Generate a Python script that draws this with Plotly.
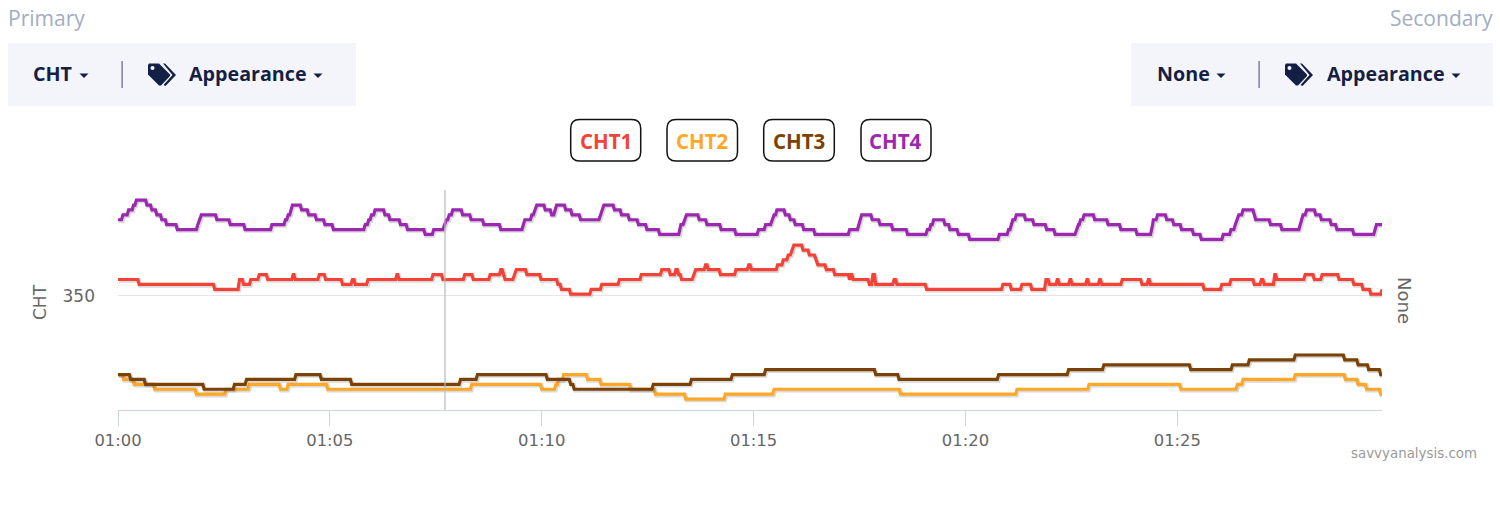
import pandas as pd
import plotly.graph_objects as go

# Series data: the seconds after 01:00:00 at which a reading changes, and the new reading
series_names = ["CHT1", "CHT2", "CHT3", "CHT4"]
series_colors = ["#f44336", "#ffa726", "#7b4206", "#9c27b0"]

cht1_t = [0,30,137,172,178,188,200,212,248,251,285,294,318,332,336,354,395,398,446,460,491,503,527,542,546,548,561,564,579,599,623,628,641,670,685,710,741,770,782,790,794,798,815,818,832,836,853,875,893,897,934,942,949,954,957,970,979,988,991,1003,1015,1036,1038,1041,1064,1069,1073,1099,1103,1145,1253,1265,1280,1294,1314,1319,1330,1333,1348,1351,1372,1375,1390,1393,1422,1450,1459,1462,1538,1563,1576,1609,1619,1623,1638,1641,1681,1694,1705,1729,1750,1763,1774,1790]
cht1_v = [353.3,352.3,351.3,353.3,352.3,353.3,354.3,353.3,354.3,353.3,354.3,353.3,352.3,353.3,352.3,353.3,354.3,353.3,354.3,353.3,354.3,353.3,354.3,355.3,354.3,353.3,354.3,355.3,354.3,353.3,352.3,351.3,350.3,351.3,352.3,353.3,354.3,355.3,354.3,355.3,354.3,353.3,354.3,355.3,356.3,355.3,354.3,355.3,356.3,355.3,356.3,357.3,358.3,359.3,360.3,359.3,358.3,357.3,356.3,355.3,354.3,353.3,354.3,353.3,352.3,354.3,352.3,353.3,352.3,351.3,352.3,351.3,352.3,351.3,353.3,352.3,353.3,352.3,353.3,352.3,353.3,352.3,353.3,352.3,353.3,352.3,353.3,352.3,351.3,352.3,353.3,352.3,353.3,352.3,354.3,353.3,354.3,353.3,354.3,353.3,352.3,351.3,350.3,351.3]

cht2_t = [0,8,23,52,111,153,186,230,241,297,501,600,620,624,631,665,684,726,761,804,860,929,1108,1273,1375,1505,1585,1593,1667,1738,1756,1768,1788,1790]
cht2_v = [333.9,332.9,331.9,330.9,329.9,330.9,331.9,330.9,331.9,330.9,331.9,330.9,331.9,332.9,333.9,332.9,331.9,330.9,329.9,328.9,329.9,330.9,329.9,330.9,331.9,330.9,331.9,332.9,333.9,332.9,331.9,330.9,329.9,329.9]

cht3_t = [0,18,39,122,165,182,252,288,331,485,509,608,641,646,758,812,870,917,1073,1106,1247,1346,1396,1519,1578,1602,1667,1737,1756,1771,1788,1790]
cht3_v = [333.9,332.9,331.9,330.9,331.9,332.9,333.9,332.9,331.9,332.9,333.9,332.9,331.9,330.9,331.9,332.9,333.9,334.9,333.9,332.9,333.9,334.9,335.9,334.9,335.9,336.9,337.9,336.9,335.9,334.9,333.9,333.9]

cht4_t = [0,7,15,22,26,41,48,55,62,69,84,113,115,118,140,159,180,218,237,241,245,247,260,270,281,293,305,350,355,359,364,378,385,400,410,435,447,462,465,469,474,488,500,518,542,574,576,586,590,593,605,614,619,621,634,643,655,683,685,688,703,713,724,737,749,767,796,797,802,805,823,834,854,875,907,917,926,929,933,945,952,959,971,987,1036,1049,1051,1053,1068,1079,1097,1118,1146,1151,1155,1171,1178,1190,1206,1248,1261,1265,1267,1272,1285,1297,1315,1327,1357,1360,1363,1368,1383,1402,1420,1443,1464,1465,1466,1472,1485,1495,1506,1523,1534,1565,1576,1582,1584,1587,1593,1609,1611,1632,1648,1674,1675,1678,1683,1696,1704,1718,1726,1750,1780,1782,1790]
cht4_v = [365.5,366.5,367.5,368.5,369.5,368.5,367.5,366.5,365.5,364.5,363.5,364.5,365.5,366.5,365.5,364.5,363.5,364.5,365.5,366.5,367.5,368.5,367.5,366.5,365.5,364.5,363.5,364.5,365.5,366.5,367.5,366.5,365.5,364.5,363.5,362.5,363.5,364.5,365.5,366.5,367.5,366.5,365.5,364.5,363.5,364.5,365.5,366.5,367.5,368.5,367.5,366.5,367.5,368.5,367.5,366.5,365.5,366.5,367.5,368.5,367.5,366.5,365.5,364.5,363.5,362.5,363.5,364.5,365.5,366.5,365.5,364.5,363.5,362.5,363.5,364.5,365.5,366.5,367.5,366.5,365.5,364.5,363.5,362.5,363.5,364.5,365.5,366.5,365.5,364.5,363.5,362.5,363.5,364.5,365.5,364.5,363.5,362.5,361.5,362.5,363.5,364.5,365.5,366.5,365.5,364.5,363.5,362.5,363.5,364.5,365.5,366.5,365.5,364.5,363.5,362.5,363.5,364.5,365.5,366.5,365.5,364.5,363.5,362.5,361.5,362.5,363.5,364.5,365.5,366.5,367.5,366.5,365.5,364.5,363.5,364.5,365.5,366.5,367.5,366.5,365.5,364.5,363.5,362.5,363.5,364.5,364.5]

# Axis labels
x_tick_seconds = [0, 300, 600, 900, 1200, 1500]
x_tick_labels = ["01:00", "01:05", "01:10", "01:15", "01:20", "01:25"]
y_ticks = [350]
x_range_seconds = [0, 1789.8]
y_range = [326.67, 371.57]
cursor_second = 463

BASE = pd.Timestamp("2020-01-01 01:00:00")
def when(seconds):
    return [BASE + pd.Timedelta(seconds=float(s)) for s in seconds]

def held(t, v, sample=2.0):
    """Each reading holds until the sample before the next change."""
    xs, ys = [], []
    for i in range(len(t)):
        xs.append(t[i]); ys.append(v[i])
        if i + 1 < len(t) and t[i + 1] - sample > t[i]:
            xs.append(t[i + 1] - sample); ys.append(v[i])
    return xs, ys

# page pixel -> paper
L, R, T, B = 118, 1382, 190, 410
def X(x): return (x - L) / (R - L)
def Y(y): return (B - y) / (B - T)
def P(pts):
    return "M " + " L ".join(f"{X(a):.5f},{Y(b):.5f}" for a, b in pts) + " Z"

fig = go.Figure()
series = [(cht1_t, cht1_v), (cht2_t, cht2_v), (cht3_t, cht3_v), (cht4_t, cht4_v)]
for (t, v), name, color in zip(series, series_names, series_colors):
    xs, ys = held(t, v)
    fig.add_trace(go.Scatter(x=when([a + 1.4 for a in xs]), y=[b - 0.2 for b in ys], mode="lines",
                             line=dict(color="rgba(0,0,0,0.15)", width=4.5), hoverinfo="skip", showlegend=False))
    fig.add_trace(go.Scatter(x=when(xs), y=ys, mode="lines", name=name,
                             line=dict(color=color, width=3.2), showlegend=False))

shapes, annos = [], []
def rect(x0, y0, x1, y1, fill):
    shapes.append(dict(type="rect", xref="paper", yref="paper", x0=X(x0), x1=X(x1), y0=Y(y1), y1=Y(y0),
                       fillcolor=fill, line=dict(width=0), layer="below"))
def text(x, y, s, size, color, family="Open Sans", anchor="left", bold=False, angle=0):
    annos.append(dict(xref="paper", yref="paper", x=X(x), y=Y(y), text=f"<b>{s}</b>" if bold else s,
                      showarrow=False, xanchor=anchor, yanchor="middle", textangle=angle,
                      font=dict(size=size, color=color, family=family), borderpad=0, borderwidth=0))
def rounded(x0, y0, x1, y1, r):
    return (f"M {X(x0+r):.5f},{Y(y0):.5f} L {X(x1-r):.5f},{Y(y0):.5f} Q {X(x1):.5f},{Y(y0):.5f} {X(x1):.5f},{Y(y0+r):.5f} "
            f"L {X(x1):.5f},{Y(y1-r):.5f} Q {X(x1):.5f},{Y(y1):.5f} {X(x1-r):.5f},{Y(y1):.5f} "
            f"L {X(x0+r):.5f},{Y(y1):.5f} Q {X(x0):.5f},{Y(y1):.5f} {X(x0):.5f},{Y(y1-r):.5f} "
            f"L {X(x0):.5f},{Y(y0+r):.5f} Q {X(x0):.5f},{Y(y0):.5f} {X(x0+r):.5f},{Y(y0):.5f} Z")

NAVY, BAND, MUTED = "#141f45", "#f4f5fa", "#a3adc5"
def caret(cx):
    shapes.append(dict(type="path", xref="paper", yref="paper",
                       path=P([(cx - 4.5, 73.5), (cx + 4.5, 73.5), (cx, 78)]), fillcolor=NAVY, line=dict(width=0)))
def tag(dx):
    shapes.append(dict(type="path", xref="paper", yref="paper", fillcolor=NAVY, line=dict(width=0),
                       path=P([(148+dx, 65), (149+dx, 63.5), (159+dx, 63.5), (170+dx, 74.5), (170+dx, 76),
                               (161+dx, 85.5), (159+dx, 85.5), (148+dx, 74.5)])))
    shapes.append(dict(type="path", xref="paper", yref="paper", fillcolor=NAVY, line=dict(width=0),
                       path=P([(163+dx, 63.5), (165+dx, 63.5), (176+dx, 75), (165.5+dx, 86), (163.5+dx, 85), (172.5+dx, 75)])))
    shapes.append(dict(type="circle", xref="paper", yref="paper", fillcolor=BAND, line=dict(width=0),
                       x0=X(150.5+dx), x1=X(154.5+dx), y0=Y(70), y1=Y(66)))

rect(8, 43, 356, 106, BAND)
rect(1131, 43, 1493, 106, BAND)
rect(121.5, 61, 122.7, 88, "#5d6484")
rect(1258.5, 61, 1259.7, 88, "#5d6484")
text(8, 18, "Primary", 21, MUTED)
text(1493, 18, "Secondary", 21, MUTED, anchor="right")
text(33, 74, "CHT", 19.7, NAVY, bold=True)
text(189, 74, "Appearance", 19.7, NAVY, bold=True)
text(1157, 74, "None", 19.7, NAVY, bold=True)
text(1327, 74, "Appearance", 19.7, NAVY, bold=True)
for c in (84, 318, 1221, 1456):
    caret(c)
tag(0)
tag(1137)

for (x0, x1), name, color in zip([(570.7, 640.7), (667, 737.5), (763.7, 834.3), (861, 931)], series_names, series_colors):
    shapes.append(dict(type="path", xref="paper", yref="paper", path=rounded(x0, 119.5, x1, 161, 9),
                       line=dict(color="#111111", width=1.5), fillcolor="white"))
    text((x0 + x1) / 2, 141, name, 20.5, color, anchor="center", bold=True)

shapes.append(dict(type="line", xref="x", yref="paper", x0=when([cursor_second])[0], x1=when([cursor_second])[0],
                   y0=0, y1=1, line=dict(color="#b8b8b8", width=1.2)))
text(40, 302, "CHT", 17, "#666666", family="DejaVu Sans", anchor="center", angle=-90)
text(1405, 300, "None", 18, "#666666", family="DejaVu Sans", anchor="center", angle=90)
text(1477, 453, "savvyanalysis.com", 13.4, "#999999", family="DejaVu Sans", anchor="right")

fig.update_layout(
    width=1500, height=511, autosize=False,
    margin=dict(l=L, r=1500 - R, t=T, b=511 - B),
    paper_bgcolor="white", plot_bgcolor="white", showlegend=False,
    shapes=shapes, annotations=annos,
    xaxis=dict(type="date", range=when(x_range_seconds), tickmode="array", tickvals=when(x_tick_seconds),
               ticktext=x_tick_labels, showgrid=False, zeroline=False, showline=True, linecolor="#ccd6eb",
               linewidth=1, ticks="outside", ticklen=15, tickwidth=1, tickcolor="#ccd6eb",
               tickfont=dict(size=16.4, color="#666666", family="DejaVu Sans")),
    yaxis=dict(range=y_range, tickmode="array", tickvals=y_ticks, showgrid=True, gridcolor="#e6e6e6", gridwidth=1,
               zeroline=False, showline=False, ticks="", ticklabelstandoff=22,
               tickfont=dict(size=17, color="#666666", family="DejaVu Sans")),
)
fig.write_html("out.html", config={"displayModeBar": False},
               post_script="document.body.style.margin='0';")
